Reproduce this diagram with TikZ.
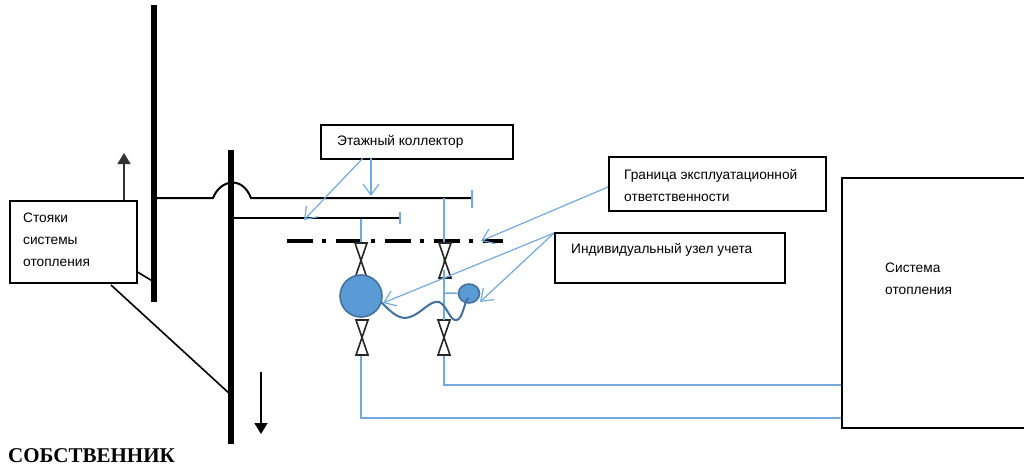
\documentclass[tikz,border=0pt]{standalone}
\usepackage{fontspec}
\setmainfont{Liberation Sans}
\newfontfamily\titlefont{Liberation Serif}
\usetikzlibrary{arrows.meta,shapes.geometric}
\definecolor{leader}{HTML}{5B9BD5}
\definecolor{meteredge}{HTML}{41719C}
\tikzset{
 box/.style={draw=black,line width=1.5pt,fill=white,anchor=north west,inner sep=0pt},
 boxtext/.style={anchor=west,inner sep=0pt,align=left,font=\fontsize{13.7}{22}\selectfont},
 riser/.style={black,line width=6.5pt},
 pipe/.style={black,line width=2pt},
 feed/.style={leader!85,line width=1.5pt},
 callout/.style={leader!85,line width=1.2pt,-{Straight Barb[length=11pt,width=16pt]}},
 valvebody/.style={draw=black!85,line width=1.6pt,fill=white},
 meter/.style={draw=meteredge,line width=1.6pt,fill=leader},
}
\begin{document}
\begin{tikzpicture}[x=1pt,y=-1pt]
 \useasboundingbox (0,0) rectangle (1024,468);
 % boxes
 \node[box,minimum width=192pt,minimum height=34pt] (kollektor) at (320,124) {};
 \node[box,minimum width=217pt,minimum height=54pt] (granica) at (608,156) {};
 \node[box,minimum width=230pt,minimum height=50pt] (uzel) at (554,232) {};
 \node[box,minimum width=190pt,minimum height=250pt] (sistema) at (841,177) {};
 \node[box,minimum width=127pt,minimum height=82pt] (stoyaki) at (9,200) {};
 % texts
 \node[boxtext] (kollektortext) at (337,142) {Этажный коллектор};
 \node[boxtext] (granicatext) at (624,185) {Граница эксплуатационной\\ответственности};
 \node[boxtext] (uzeltext) at (571,250) {Индивидуальный узел учета};
 \node[boxtext] (sistematext) at (885,279) {Система\\отопления};
 \node[boxtext] (stoyakitext) at (23,240) {Стояки\\системы\\отопления};
 \node[anchor=west,inner sep=0pt,font=\titlefont\bfseries\fontsize{21}{24}\selectfont] (owner) at (8,456) {СОБСТВЕННИК};
 % risers
 \coordinate (risera) at (154,5);
 \coordinate (riserb) at (231,150);
 \draw[riser] (risera) -- (154,302);
 \draw[riser] (riserb) -- (231,444);
 \draw[pipe] (157,198) -- (213,198) .. controls (220,180) and (242,175) .. (251,198) -- (472,198);
 \draw[pipe] (233,218) -- (400,218);
 \draw[feed] (472,190) -- (472,208);
 \draw[feed] (400,212) -- (400,224);
 % boundary
 \draw[black,line width=3.5pt,dash pattern=on 26pt off 9pt on 4pt off 10pt] (287,241) -- (503,241);
 % black leaders and flow arrows
 \draw[black,line width=1.6pt] (stoyaki.east |- 0,272) -- (154,282);
 \draw[black,line width=1.6pt] (111,285) -- (231,395);
 \draw[black!80,line width=1.6pt,-{Triangle[length=11pt,width=13pt]}] (stoyaki.north -| 124,0) -- (124,153);
 \draw[black,line width=1.6pt,-{Triangle[length=11pt,width=13pt]}] (261,372) -- (261,434);
 % blue pipes
 \draw[feed] (444,198) -- (444,385) -- (sistema.west |- 0,385);
 \draw[feed] (361,219) -- (361,244);
 \draw[feed] (361,352) -- (361,418) -- (sistema.west |- 0,418);
 % valves
 \foreach \vx/\vy in {361/243,445/243,362/320,444/320}{
  \draw[valvebody] (\vx-6,\vy) -- (\vx+6,\vy) -- (\vx-6,\vy+35) -- (\vx+6,\vy+35) -- cycle;
 }
 \draw[feed] (444,270) -- (444,293);
 \draw[feed] (444,293) -- (444,320);
 % meters
 \node[meter,circle,minimum size=42pt,inner sep=0pt] (meterbig) at (361,296) {};
 \node[meter,ellipse,minimum width=21pt,minimum height=19pt,inner sep=0pt] (metersmall) at (469,293.5) {};
 \draw[feed] (444,293) -- (metersmall);
 \draw[meteredge,line width=2pt] (381,302) .. controls (394,315) and (400,320) .. (410,317) .. controls (422,313) and (430,300) .. (439,302) .. controls (447,305) and (450,322) .. (457,320) .. controls (463,318) and (464,303) .. (468,298);
 % callouts
 \coordinate (kollektorfoot) at (363,158);
 \coordinate (kollektordown) at (371,158);
 \coordinate (granicafoot) at (608,187);
 \coordinate (uzelfoot) at (554,233);
 \draw[callout] (kollektorfoot) -- (304,220);
 \draw[callout] (kollektordown) -- (371,196);
 \draw[callout] (granicafoot) -- (481,241);
 \draw[callout] (uzelfoot) -- (383,303);
 \draw[callout] (uzelfoot) -- (480,302);
\end{tikzpicture}
\end{document}
